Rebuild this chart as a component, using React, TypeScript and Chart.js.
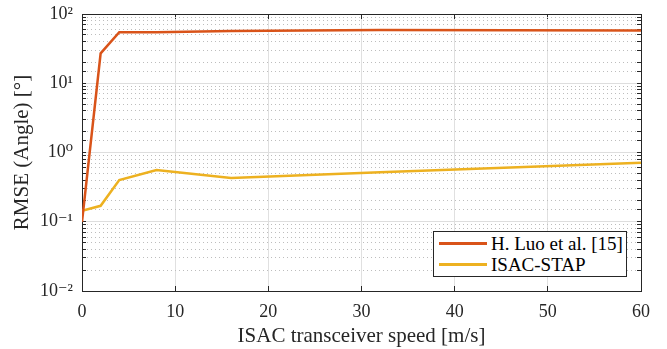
import React, { useEffect, useRef } from "react";
import { Chart, registerables } from "chart.js";

Chart.register(...registerables);

const speeds = [0, 2, 4, 8, 16, 32, 60];
const luoRmse = [0.1, 27, 54.5, 54.5, 57, 58.5, 58];
const stapRmse = [0.144, 0.17, 0.4, 0.56, 0.43, 0.52, 0.71];
const seriesNames = ["H. Luo et al. [15]", "ISAC-STAP"];
const seriesColors = ["#D95319", "#EDB120"];
const xTickStep = 10;
const yPowerLabels: Record<string, string> = {
  "-2": "10⁻²",
  "-1": "10⁻¹",
  "0": "10⁰",
  "1": "10¹",
  "2": "10²",
};

const FONT = "'Liberation Serif', 'DejaVu Serif', serif";

const isMajorLog = (v: number) => {
  const l = Math.log10(v);
  return Math.abs(l - Math.round(l)) < 1e-6;
};

const zeroPad = (s: any) => {
  s.paddingTop = 0;
  s.paddingBottom = 0;
  s.paddingLeft = 0;
  s.paddingRight = 0;
};

export default function App() {
  const ref = useRef<HTMLCanvasElement | null>(null);

  useEffect(() => {
    if (!ref.current) return;
    const axisColor = "#262626";
    const chart = new Chart(ref.current, {
      type: "line",
      data: {
        datasets: [
          {
            label: seriesNames[0],
            data: speeds.map((s, i) => ({ x: s, y: luoRmse[i] })),
            borderColor: seriesColors[0],
            backgroundColor: seriesColors[0],
            borderWidth: 2.5,
            pointRadius: 0,
            tension: 0,
          },
          {
            label: seriesNames[1],
            data: speeds.map((s, i) => ({ x: s, y: stapRmse[i] })),
            borderColor: seriesColors[1],
            backgroundColor: seriesColors[1],
            borderWidth: 2.5,
            pointRadius: 0,
            tension: 0,
          },
        ],
      },
      options: {
        animation: false,
        responsive: false,
        layout: { padding: 0 },
        plugins: { legend: { display: false }, tooltip: { enabled: false } },
        scales: {
          x: {
            type: "linear",
            position: "bottom",
            min: 0,
            max: 60,
            ticks: {
              stepSize: xTickStep,
              color: axisColor,
              padding: 15,
              font: { family: FONT, size: 18 },
              maxRotation: 0,
            },
            grid: {
              color: "#e0e0e0",
              lineWidth: 1,
              tickLength: -5,
              tickColor: axisColor,
              tickBorderDash: [],
            },
            border: { color: axisColor, width: 1 },
            title: {
              display: true,
              text: "ISAC transceiver speed [m/s]",
              color: axisColor,
              font: { family: FONT, size: 21 },
              padding: { top: 0, bottom: 0 },
            },
            afterFit: (s: any) => {
              s.height = 58;
              zeroPad(s);
            },
          },
          x2: {
            type: "linear",
            position: "top",
            min: 0,
            max: 60,
            ticks: { stepSize: xTickStep, display: false },
            grid: {
              drawOnChartArea: false,
              tickLength: -5,
              tickColor: axisColor,
            },
            border: { color: axisColor, width: 1 },
            afterFit: (s: any) => {
              s.height = 14;
              zeroPad(s);
            },
          },
          y: {
            type: "logarithmic",
            position: "left",
            min: 0.01,
            max: 100,
            ticks: {
              autoSkip: false,
              color: axisColor,
              padding: 13,
              font: { family: FONT, size: 18 },
              callback: (v: any) => {
                const n = Number(v);
                if (!isMajorLog(n)) return "";
                return yPowerLabels[String(Math.round(Math.log10(n)))] ?? "";
              },
            },
            grid: {
              color: (ctx: any) =>
                ctx.tick && isMajorLog(ctx.tick.value) ? "#dedede" : "#bdbdbd",
              lineWidth: 1,
              tickLength: -4,
              tickColor: axisColor,
              tickBorderDash: [],
              borderDash: (ctx: any) =>
                ctx.tick && !isMajorLog(ctx.tick.value) ? [1, 3] : [],
            } as any,
            border: {
              color: axisColor,
              width: 1,
              dash: (ctx: any) =>
                ctx.tick && !isMajorLog(ctx.tick.value) ? [1, 3] : [],
            } as any,
            title: {
              display: true,
              text: "RMSE (Angle) [°]",
              color: axisColor,
              font: { family: FONT, size: 21 },
              padding: { top: 10, bottom: 0 },
            },
            afterFit: (s: any) => {
              s.width = 82;
              zeroPad(s);
            },
          },
          y2: {
            type: "logarithmic",
            position: "right",
            min: 0.01,
            max: 100,
            ticks: { autoSkip: false, display: false },
            grid: {
              drawOnChartArea: false,
              tickLength: -4,
              tickColor: axisColor,
            },
            border: { color: axisColor, width: 1 },
            afterFit: (s: any) => {
              s.width = 26;
              zeroPad(s);
            },
          },
        },
      },
    });
    return () => chart.destroy();
  }, []);

  const legendText = {
    fontFamily: FONT,
    fontSize: 19,
    color: "#000",
    lineHeight: "21px",
    whiteSpace: "nowrap" as const,
  };

  return (
    <div
      style={{
        position: "fixed",
        left: 0,
        top: 0,
        width: 667,
        height: 349,
        background: "#fff",
      }}
    >
      <canvas ref={ref} width={667} height={349} style={{ display: "block" }} />
      <div
        style={{
          position: "absolute",
          left: 433,
          top: 231,
          width: 194,
          height: 46,
          border: "1px solid #262626",
          background: "#fff",
          boxSizing: "border-box",
          paddingTop: 1,
        }}
      >
        {seriesNames.map((name, i) => (
          <div key={name} style={{ display: "flex", alignItems: "center", height: 21 }}>
            <div
              style={{
                width: 48,
                height: 2.5,
                background: seriesColors[i],
                marginLeft: 5,
                marginRight: 4,
              }}
            />
            <span style={legendText}>{name}</span>
          </div>
        ))}
      </div>
    </div>
  );
}
